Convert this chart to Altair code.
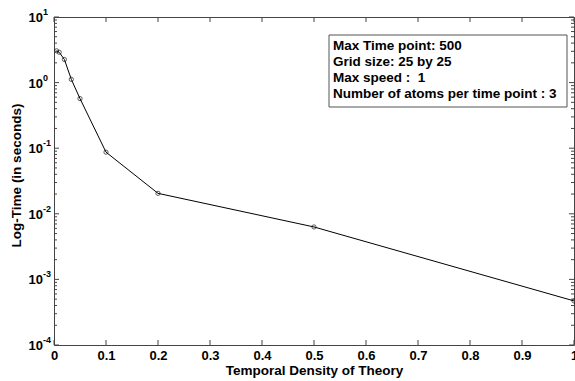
import altair as alt
import pandas as pd

# data
density = [0.005, 0.01, 0.02, 0.0333, 0.05, 0.1, 0.2, 0.5, 1.0]
log_time = [3.05, 2.9, 2.25, 1.12, 0.57, 0.087, 0.0205, 0.0063, 0.00047]

x_ticks = [0, 0.1, 0.2, 0.3, 0.4, 0.5, 0.6, 0.7, 0.8, 0.9, 1.0]
y_major = [10.0, 1.0, 0.1, 0.01, 0.001, 0.0001]
y_exponents = ["1", "0", "-1", "-2", "-3", "-4"]
y_minor = [m * 10.0 ** e for e in range(-4, 1) for m in range(2, 10)]

info_lines = [
    "Max Time point: 500",
    "Grid size: 25 by 25",
    "Max speed : \u00a01",
    "Number of atoms per time point : 3",
]

W, H = 520, 328
FONT = "Liberation Sans"
AX = "#444444"

df = pd.DataFrame({"d": density, "t": log_time})
xt = pd.DataFrame({"d": x_ticks})
ym = pd.DataFrame({"t": y_major, "e": y_exponents})
yn = pd.DataFrame({"t": y_minor})
info = pd.DataFrame({"txt": ["\n".join(info_lines)]})

xscale = alt.Scale(domain=[0, 1], nice=False, zero=False)
yscale = alt.Scale(type="log", domain=[1e-4, 10], nice=False)

xenc = alt.X(
    "d:Q",
    scale=xscale,
    axis=alt.Axis(
        values=x_ticks,
        format="~g",
        ticks=False,
        domain=False,
        grid=False,
        labelFont=FONT,
        labelFontSize=13,
        labelFontWeight="bold",
        labelColor="black",
        labelPadding=4,
        labelFlush=False,
        title="Temporal Density of Theory",
        titleFont=FONT,
        titleFontSize=13.5,
        titleFontWeight="bold",
        titleColor="black",
        titlePadding=1,
    ),
)
yenc = alt.Y(
    "t:Q",
    scale=yscale,
    axis=alt.Axis(
        labels=False,
        ticks=False,
        domain=False,
        grid=False,
        title="Log-Time (in seconds)",
        titleFont=FONT,
        titleFontSize=13.5,
        titleFontWeight="bold",
        titleColor="black",
        titleX=-31,
        titleY=158,
        titleBaseline="bottom",
        titleAngle=270,
    ),
)

line = alt.Chart(df).mark_line(color="black", strokeWidth=1).encode(x=xenc, y=yenc)
pts = alt.Chart(df).mark_point(
    shape="circle", filled=False, color="black", size=18, strokeWidth=0.9
).encode(x="d:Q", y="t:Q")

# ticks (inside, on all four sides)
xb = alt.Chart(xt).mark_rule(color=AX, strokeWidth=1).encode(
    x="d:Q", y=alt.value(H), y2=alt.value(H - 5)
)
xtop = alt.Chart(xt).mark_rule(color=AX, strokeWidth=1).encode(
    x="d:Q", y=alt.value(0), y2=alt.value(5)
)
yl = alt.Chart(ym).mark_rule(color=AX, strokeWidth=1).encode(
    y="t:Q", x=alt.value(0), x2=alt.value(5)
)
yr = alt.Chart(ym).mark_rule(color=AX, strokeWidth=1).encode(
    y="t:Q", x=alt.value(W), x2=alt.value(W - 5)
)
ynl = alt.Chart(yn).mark_rule(color=AX, strokeWidth=1).encode(
    y="t:Q", x=alt.value(0), x2=alt.value(3)
)
ynr = alt.Chart(yn).mark_rule(color=AX, strokeWidth=1).encode(
    y="t:Q", x=alt.value(W), x2=alt.value(W - 3)
)

# y tick labels 10^k
base = alt.Chart(ym).mark_text(
    align="right", baseline="middle", font=FONT, fontSize=13, fontWeight="bold",
    color="black", dy=1,
).encode(y="t:Q", x=alt.value(-11), text=alt.value("10"))
expo = alt.Chart(ym).mark_text(
    align="left", baseline="middle", font=FONT, fontSize=9, fontWeight="bold",
    color="black", dy=-5,
).encode(y="t:Q", x=alt.value(-11), text="e:N")

# info box
box = alt.Chart(info).mark_rect(
    fill="white", stroke="#555555", strokeWidth=1
).encode(x=alt.value(275), x2=alt.value(513), y=alt.value(18), y2=alt.value(90))
txt = alt.Chart(info).mark_text(
    align="left", baseline="top", font=FONT, fontSize=13.5, fontWeight="bold",
    color="black", lineBreak="\n", lineHeight=16,
).encode(x=alt.value(279), y=alt.value(22), text="txt:N")

chart = (
    alt.layer(line, pts, xb, xtop, yl, yr, ynl, ynr, base, expo, box, txt)
    .properties(
        width=W,
        height=H,
        background="white",
        autosize=alt.AutoSizeParams(type="none"),
        padding={"left": 54, "top": 17, "right": 1, "bottom": 36},
    )
    .configure_view(stroke=AX, strokeWidth=1)
)

chart.save("out.html", embed_options={"renderer": "svg", "actions": False})
